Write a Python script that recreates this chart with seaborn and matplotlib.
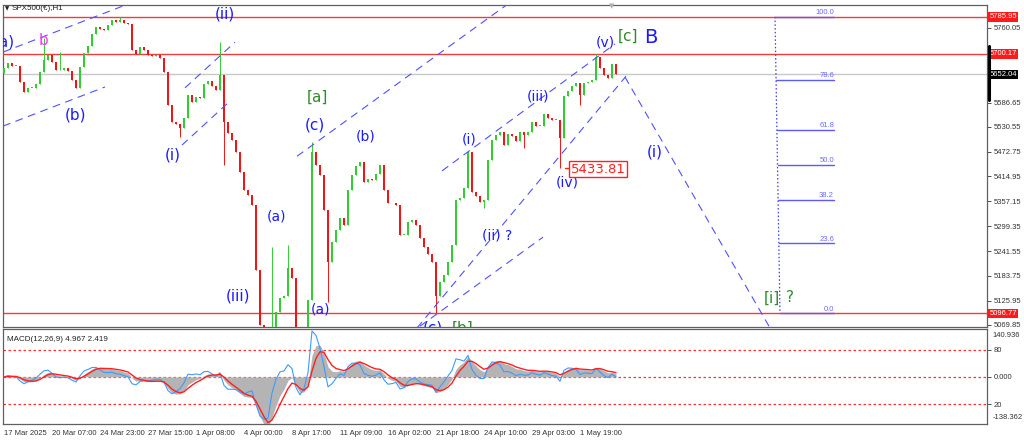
import numpy as np
import pandas as pd
import matplotlib
matplotlib.use("Agg")
import matplotlib.pyplot as plt
from matplotlib.transforms import blended_transform_factory
from matplotlib.lines import Line2D
import seaborn as sns

# ---------------- data (H1 closes, one value per ~5 bars) ----------------
closes = [5667, 5679, 5672, 5672, 5635, 5611, 5621, 5621, 5630, 5658,
          5686, 5697, 5681, 5662, 5662, 5667, 5660, 5639, 5621, 5669,
          5702, 5718, 5746, 5762, 5758, 5755, 5767, 5779, 5774, 5779,
          5772, 5769, 5709, 5700, 5716, 5709, 5697, 5695, 5697, 5690,
          5658, 5581, 5542, 5537, 5528, 5551, 5604, 5588, 5600, 5597,
          5630, 5637, 5625, 5616, 5651, 5542, 5516, 5500, 5472, 5425,
          5384, 5372, 5349, 5198, 5070, 4988, 4919, 5058, 5100, 5133,
          5137, 5202, 5179, 5035, 4988, 5023, 5128, 5472, 5442, 5418,
          5337, 5216, 5263, 5291, 5318, 5302, 5384, 5418, 5439, 5449,
          5402, 5409, 5407, 5421, 5442, 5384, 5353, 5353, 5349, 5279,
          5279, 5309, 5314, 5302, 5272, 5251, 5235, 5216, 5137, 5170,
          5186, 5216, 5256, 5360, 5365, 5388, 5472, 5379, 5370, 5356,
          5360, 5453, 5500, 5511, 5518, 5488, 5514, 5509, 5497, 5518,
          5511, 5518, 5542, 5532, 5532, 5560, 5551, 5546, 5546, 5504,
          5602, 5614, 5625, 5632, 5604, 5632, 5635, 5639, 5693, 5667,
          5651, 5644, 5676, 5652]
first_open = 5655
spike_high = {10: 5737, 14: 5704, 29: 5786, 54: 5728, 67: 5251, 71: 5256,
              77: 5495, 148: 5700}
spike_low = {44: 5507, 55: 5442, 66: 4830, 81: 5123, 108: 5097, 120: 5342,
             130: 5481, 139: 5434, 144: 5581}

date_labels = ["17 Mar 2025", "20 Mar 07:00", "24 Mar 23:00", "27 Mar 15:00",
               "1 Apr 08:00", "4 Apr 00:00", "8 Apr 17:00", "11 Apr 09:00",
               "16 Apr 02:00", "21 Apr 18:00", "24 Apr 10:00", "29 Apr 03:00",
               "1 May 19:00"]
date_pos = [0, 12, 24, 36, 48, 60, 72, 84, 96, 108, 120, 132, 144]

price_ticks = [5760.05, 5586.65, 5530.55, 5472.75, 5414.95, 5357.15,
               5299.35, 5241.55, 5183.75, 5125.95, 5069.85]
red_levels = [5785.95, 5700.17, 5096.77]
last_price = 5652.04
fib_high, fib_low = 5785.95, 5096.77
fib_ratios = [100.0, 78.6, 61.8, 50.0, 38.2, 23.6, 0.0]
marked_low = 5433.81

macd_levels = [80, 0, -80]
macd_level_labels = ["80", "0.000", "20"]
macd_range = (-138.362, 140.936)

# wave annotations: (text, index, price, colour, size)
BLUE = "#1a1aff"
GREEN = "#2e8b2e"
labels = [
    ("(a)", 0.0, 5727, BLUE, 11), ("b", 9.75, 5732, "#ff33ff", 11),
    ("(b)", 17.75, 5558, BLUE, 11), ("(ii)", 55.25, 5792, BLUE, 11),
    ("(i)", 42.25, 5465, BLUE, 11), ("[a]", 78.25, 5600, GREEN, 11),
    ("(c)", 77.75, 5535, BLUE, 11), ("(b)", 90.5, 5507, BLUE, 10),
    ("(i)", 116.25, 5500, BLUE, 10), ("(iii)", 133.5, 5600, BLUE, 10),
    ("(v)", 150.25, 5727, BLUE, 10), ("[c]", 156.0, 5741, GREEN, 11),
    ("B", 161.75, 5739, BLUE, 14), ("(i)", 162.75, 5472, BLUE, 11),
    ("(a)", 68.0, 5323, BLUE, 10), ("(iii)", 58.5, 5137, BLUE, 11),
    ("(a)", 79.25, 5107, BLUE, 10), ("(c)", 107.25, 5063, BLUE, 11),
    ("[b]", 114.75, 5062, GREEN, 11), ("(ii) ?", 123.25, 5277, BLUE, 10),
    ("(iv)", 140.75, 5402, BLUE, 10), ("[i]", 192.0, 5132, GREEN, 11),
    ("?", 196.5, 5134, GREEN, 11),
]
# dashed channel lines in (index, price)
channels = [
    ((-0.25, 5704), (30.25, 5813)), ((-0.25, 5532), (25.25, 5623)),
    ((45.25, 5621), (57.75, 5727)), ((44.5, 5488), (56.0, 5586)),
    ((73.25, 5462), (126.0, 5816)), ((109.5, 5428), (152.75, 5723)),
    ((103.25, 5063), (155.5, 5648)), ((104.0, 5067), (134.75, 5274)),
    ((155.25, 5646), (191.5, 5063)),
]

# ---------------- figure ----------------
sns.set_style("white")
plt.rcParams["font.family"] = ["DejaVu Sans"]
TICKFONT = "Liberation Sans"
W, H = 1024, 441
fig = plt.figure(figsize=(W / 100, H / 100), dpi=100, facecolor="white")
ax = fig.add_axes([3 / W, 1 - 327 / H, 984 / W, 322 / H])
ax2 = fig.add_axes([3 / W, 1 - 424 / H, 984 / W, 95 / H])
xlim = (-0.25, 245.75)

n = len(closes)
idx = np.arange(n)
c = np.array(closes, dtype=float)
o = np.concatenate([[first_open], c[:-1]])
hi = np.maximum(o, c)
lo = np.minimum(o, c)
for k, v in spike_high.items():
    hi[k] = v
for k, v in spike_low.items():
    lo[k] = v
bull = c >= o
col = np.where(bull, "#33cc33", "#f01414")

ax.vlines(idx, lo, hi, colors=col, lw=0.7, zorder=3)
ax.bar(idx, np.maximum(np.abs(c - o), 1.5), bottom=np.minimum(o, c),
       width=0.55, color=col, lw=0, zorder=3)

# horizontal levels
for lv in red_levels:
    ax.axhline(lv, color="#f03c3c", lw=1.0, zorder=2)
ax.axhline(last_price, color="#c8c8c8", lw=1.0, zorder=1)

# channels
for (x0, y0), (x1, y1) in channels:
    ax.plot([x0, x1], [y0, y1], color="#5050ff", lw=0.8,
            dashes=(7, 5), zorder=4)

# fibonacci
fx0, fx1 = 192.75, 207.5
ax.plot([192.75, 194.0], [fib_high, fib_low], color="#3c3cff", lw=0.9,
        ls=(0, (1.2, 1.8)), zorder=4)
for r in fib_ratios:
    p = fib_low + r / 100 * (fib_high - fib_low)
    ax.plot([fx0 + (fib_high - p) / (fib_high - fib_low) * 1.25, fx1], [p, p],
            color="#5a5aff", lw=1.0, zorder=4)
    ax.text(fx1, p + 2, f"{r:.1f}", color="#6b6bff", fontsize=5.5,
            family=TICKFONT, ha="right", va="bottom", zorder=5)

# labels
for t, xi, yp, colr, fs in labels:
    ax.text(xi, yp, t, color=colr, fontsize=fs, ha="center", va="center",
            clip_on=True, zorder=6)

# marked low
ax.plot([140.25, 141.75], [5435, 5435], color="#ff2020", lw=1, zorder=6)
ax.text(148.5, 5432, f"{marked_low:.2f}", color="#ff2020", fontsize=9.5,
        ha="center", va="center", zorder=6,
        bbox=dict(boxstyle="square,pad=0.12", fc="white", ec="#ff2020", lw=1))

ax.set_xlim(*xlim)
ax.set_ylim(5065.2, 5813.5)
ax.set_xticks([])
ax.yaxis.tick_right()
ax.set_yticks(price_ticks)
ax.set_yticklabels([f"{v:.2f}" for v in price_ticks], family=TICKFONT)
ax.tick_params(axis="y", labelsize=5.5, length=3, pad=2, colors="#333333",
               width=0.6)

trans = blended_transform_factory(ax.transAxes, ax.transData)
for lv in red_levels:
    ax.text(1.0025, lv, f"{lv:.2f}", transform=trans, fontsize=5.5,
            family=TICKFONT, color="white", ha="left", va="center",
            clip_on=False, zorder=7,
            bbox=dict(boxstyle="square,pad=0.18", fc="#ff1a1a", ec="none"))
ax.text(1.0025, last_price, f"{last_price:.2f}", transform=trans, fontsize=5.5,
        family=TICKFONT, color="white", ha="left", va="center", clip_on=False,
        zorder=7, bbox=dict(boxstyle="square,pad=0.18", fc="black", ec="none"))

for a in (ax, ax2):
    for sp in a.spines.values():
        sp.set_color("#606060")
        sp.set_linewidth(0.9)

# header
fig.text(5 / W, 1 - 9 / H, "\u25BC", fontsize=4, va="center", color="#222222")
fig.text(12 / W, 1 - 9 / H, "SPX500(€),H1", fontsize=5.8, family=TICKFONT,
         va="center", color="#222222")
fig.add_artist(Line2D([988.5 / W, 988.5 / W], [1 - 46 / H, 1 - 100 / H],
                      color="black", lw=2.2))
fig.text(612 / W, 1 - 6 / H, "\u25BC", fontsize=5, ha="center", va="center",
         color="#b0b0b0")

# ---------------- MACD ----------------
s = pd.Series(c)
main = s.ewm(span=4, adjust=False).mean() - s.ewm(span=9, adjust=False).mean()
blue = s.ewm(span=2, adjust=False).mean() - s.ewm(span=5, adjust=False).mean()
signal = main.ewm(span=3, adjust=False).mean()

ax2.fill_between(idx, 0, main, color="#b4b4b4", lw=0, zorder=2)
for lv in macd_levels:
    ax2.axhline(lv, color="#ff3030", lw=0.9, ls=(0, (2, 2)), zorder=1)
sns.lineplot(x=idx, y=blue.values, ax=ax2, color="#3d9bff", lw=0.8, zorder=3)
sns.lineplot(x=idx, y=signal.values, ax=ax2, color="#ff2020", lw=1.0, zorder=4)

ax2.set_xlim(*xlim)
ax2.set_ylim(*macd_range)
ax2.yaxis.tick_right()
ax2.set_yticks(macd_levels)
ax2.set_yticklabels(macd_level_labels, family=TICKFONT)
ax2.tick_params(axis="y", labelsize=5.5, length=3, pad=2, colors="#333333",
                width=0.6)
ax2.set_xticks(date_pos)
ax2.set_xticklabels(date_labels, ha="left", family=TICKFONT)
ax2.tick_params(axis="x", labelsize=5.5, length=3, pad=1.5, colors="#333333",
                width=0.6)
ax2.set_xlabel("")
ax2.set_ylabel("")
ax2.text(1.006, 0.97, f"{macd_range[1]:.3f}", transform=ax2.transAxes,
         fontsize=5.5, family=TICKFONT, ha="left", va="top", color="#333333")
ax2.text(1.006, 0.03, f"{macd_range[0]:.3f}", transform=ax2.transAxes,
         fontsize=5.5, family=TICKFONT, ha="left", va="bottom", color="#333333")
ax2.text(0.004, 0.93, "MACD(12,26,9) 4.967 2.419", transform=ax2.transAxes,
         fontsize=5.8, family=TICKFONT, ha="left", va="top", color="#222222")

fig.savefig("out.png", dpi=100, facecolor="white")
